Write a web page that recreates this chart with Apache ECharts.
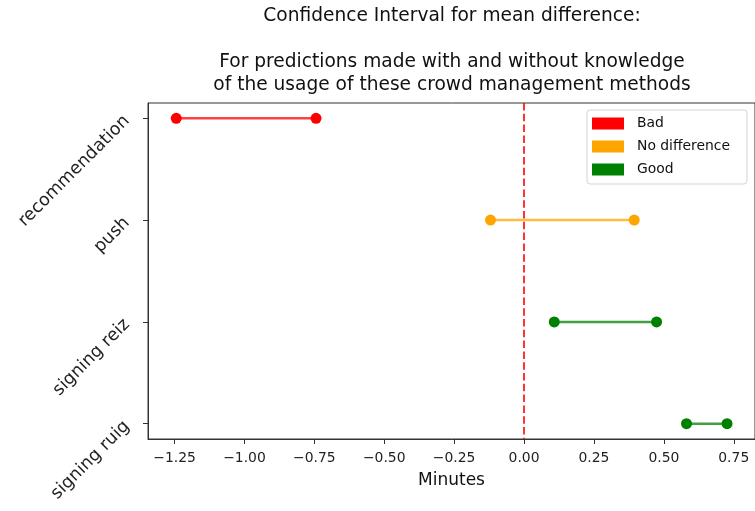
<!DOCTYPE html>
<html>
<head>
<meta charset="utf-8">
<script src="https://cdn.jsdelivr.net/npm/echarts@6/dist/echarts.min.js"></script>
<style>html,body{margin:0;padding:0;background:#fff;}#chart{width:755px;height:511px;}</style>
</head>
<body>
<div id="chart"></div>
<script>
// Data
const categories = ['recommendation', 'push', 'signing reiz', 'signing ruig'];
const lowerBounds = [-1.244, -0.12, 0.108, 0.581];
const upperBounds = [-0.744, 0.394, 0.474, 0.726];
const verdicts = ['Bad', 'No difference', 'Good', 'Good'];
const verdictNames = ['Bad', 'No difference', 'Good'];
const verdictColors = ['#ff0000', '#ffa500', '#008000'];
const xTicks = [-1.25, -1.0, -0.75, -0.5, -0.25, 0.0, 0.25, 0.5, 0.75];
const xMin = -1.345, xMax = 0.826;
const yIndex = [0, 1, 2, 3];

const FONT = 'DejaVu Sans';
const colorOf = v => verdictColors[verdictNames.indexOf(v)];

const series = categories.map((c, i) => ({
  name: verdicts[i],
  type: 'line',
  data: [[lowerBounds[i], i], [upperBounds[i], i]],
  symbol: 'circle',
  symbolSize: 11,
  itemStyle: { color: colorOf(verdicts[i]) },
  lineStyle: { color: colorOf(verdicts[i]), width: 2.5, opacity: 0.75 },
  emphasis: { disabled: true },
  z: 3
}));
series.push({
  name: 'zero',
  type: 'line',
  data: [],
  markLine: {
    silent: true,
    symbol: 'none',
    label: { show: false },
    lineStyle: { color: '#ff0000', type: [7.5, 3.3], width: 2, opacity: 0.8 },
    data: [{ xAxis: 0 }]
  }
});

const chart = echarts.init(document.getElementById('chart'), null, { renderer: 'canvas' });
chart.setOption({
  animation: false,
  backgroundColor: '#fff',
  title: {
    text: 'Confidence Interval for mean difference:\n\nFor predictions made with and without knowledge\nof the usage of these crowd management methods',
    left: 452,
    top: 4.5,
    padding: 0,
    textAlign: 'center',
    textStyle: { fontFamily: FONT, fontSize: 18.6, fontWeight: 'normal', color: '#111', lineHeight: 23 }
  },
  legend: {
    data: verdictNames,
    orient: 'vertical',
    left: 587,
    top: 110,
    padding: [6.5, 17, 7.5, 5],
    itemWidth: 32,
    itemHeight: 12,
    itemGap: 9,
    icon: 'rect',
    backgroundColor: 'rgba(255,255,255,0.8)',
    borderColor: '#d4d4d4',
    borderWidth: 1,
    borderRadius: 3,
    selectedMode: false,
    textStyle: { fontFamily: FONT, fontSize: 13.9, color: '#111', lineHeight: 14, padding: [0, 0, 0, 8] }
  },
  grid: {
    left: 148, top: 103, right: -1, bottom: 72,
    show: true, borderColor: '#333', borderWidth: 1, backgroundColor: 'transparent'
  },
  xAxis: {
    type: 'value',
    min: xMin,
    max: xMax,
    name: 'Minutes',
    nameLocation: 'middle',
    nameGap: 33,
    nameTextStyle: { fontFamily: FONT, fontSize: 17, color: '#111' },
    axisLine: { show: true, onZero: false, lineStyle: { color: '#333', width: 1 } },
    axisTick: { show: true, length: 5, lineStyle: { color: '#333' }, customValues: xTicks },
    axisLabel: {
      customValues: xTicks,
      margin: 12,
      fontFamily: FONT, fontSize: 13.9, color: '#222',
      formatter: v => (v < 0 ? '\u2212' : '') + Math.abs(v).toFixed(2)
    },
    splitLine: { show: false }
  },
  yAxis: {
    type: 'value',
    min: -0.15,
    max: 3.15,
    inverse: true,
    axisLine: { show: true, onZero: false, lineStyle: { color: '#333', width: 1 } },
    axisTick: { show: true, length: 5, lineStyle: { color: '#333' }, customValues: yIndex },
    axisLabel: {
      customValues: yIndex,
      rotate: 45,
      margin: 21,
      fontFamily: FONT, fontSize: 17.5, color: '#222',
      formatter: v => categories[Math.round(v)]
    },
    splitLine: { show: false }
  },
  series: series
});
</script>
</body>
</html>
